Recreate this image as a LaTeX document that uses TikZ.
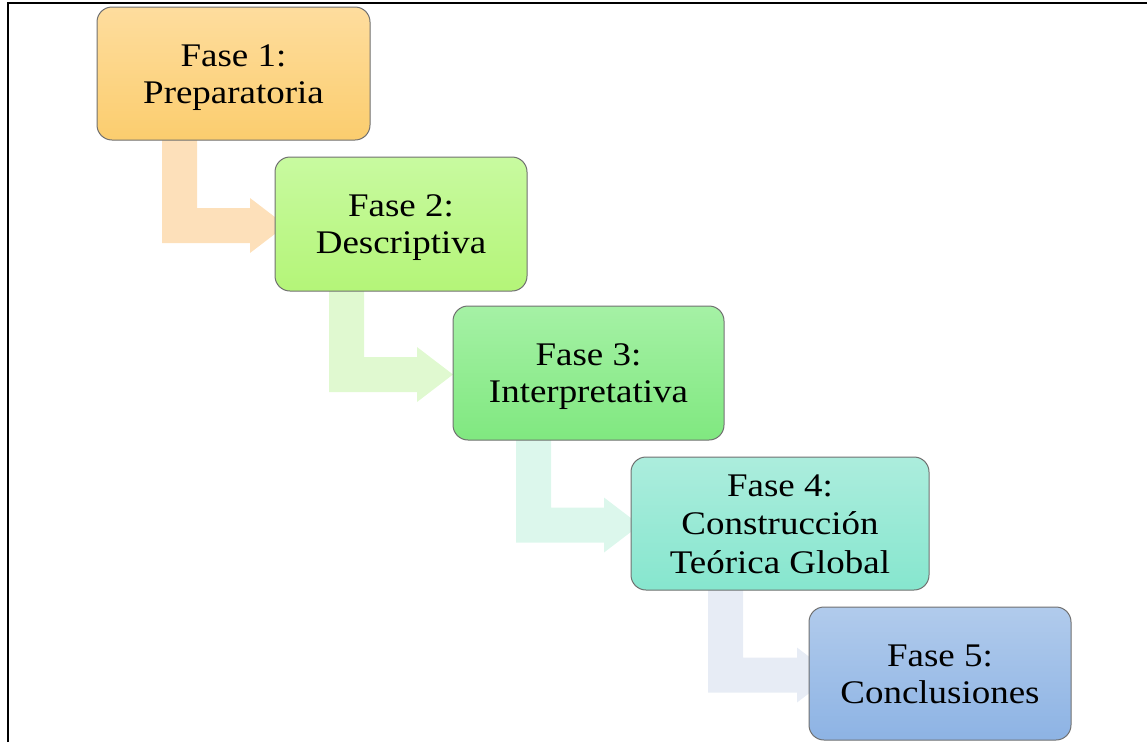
\documentclass[tikz,border=0pt]{standalone}
\usepackage{fontspec}
\setmainfont{Liberation Serif}[FakeStretch=1.12]
\usetikzlibrary{calc}
\pgfdeclarelayer{background}
\pgfsetlayers{background,main}
\definecolor{boxborder}{RGB}{112,112,112}
\definecolor{aone}{RGB}{253,224,186}
\definecolor{atwo}{RGB}{224,249,208}
\definecolor{athree}{RGB}{220,247,236}
\definecolor{afour}{RGB}{231,236,245}
\definecolor{tone}{RGB}{254,221,158}
\definecolor{bone}{RGB}{251,205,110}
\definecolor{ttwo}{RGB}{200,250,160}
\definecolor{btwo}{RGB}{180,245,120}
\definecolor{tthree}{RGB}{165,241,165}
\definecolor{bthree}{RGB}{128,232,128}
\definecolor{tfour}{RGB}{172,237,221}
\definecolor{bfour}{RGB}{134,230,206}
\definecolor{tfive}{RGB}{177,203,236}
\definecolor{bfive}{RGB}{141,179,228}
\newcommand\wstrut{\rule[-7.1pt]{0pt}{36.5pt}}
\newcommand\bentarrow[5]{%
  \begin{pgfonlayer}{background}
  \fill[#5] let \p1=(#1.south), \p2=(#2.west) in
    ({#3pt},{\y1+1pt}) -- ({#3pt+35pt},{\y1+1pt}) -- ({#3pt+35pt},{\y2+16pt})
    -- ({#4pt},{\y2+16pt}) -- ({#4pt},{\y2+26pt}) -- ({#4pt+36pt},{\y2-1.5pt})
    -- ({#4pt},{\y2-29pt}) -- ({#4pt},{\y2-19pt}) -- ({#3pt},{\y2-19pt}) -- cycle;
  \end{pgfonlayer}}
\begin{document}
\begin{tikzpicture}[x=1pt,y=1pt,
  phase/.style={draw=boxborder, line width=1pt, rounded corners=15pt,
    align=center, inner sep=0pt, text=black,
    font=\fontsize{33}{37}\selectfont, minimum height=133pt}]
\useasboundingbox (0,0) rectangle (1147,-742);
\draw[line width=2.5pt] (8,-742) -- (8,-3) -- (1147,-3);

\node[phase, minimum width=273pt, top color=tone, bottom color=bone]
  (b1) at (233.5,-73.5) {\wstrut Fase 1:\\Preparatoria\wstrut};
\node[phase, minimum width=252pt, minimum height=134pt, top color=ttwo, bottom color=btwo]
  (b2) at (401,-224) {\wstrut Fase 2:\\Descriptiva\wstrut};
\node[phase, minimum width=271pt, minimum height=134pt, top color=tthree, bottom color=bthree]
  (b3) at (588.5,-373) {\wstrut Fase 3:\\Interpretativa\wstrut};
\node[phase, minimum width=298pt, top color=tfour, bottom color=bfour,
  font=\fontsize{33}{38.5}\selectfont]
  (b4) at (780,-523.5) {\wstrut Fase 4:\\Construcción\\Teórica Global\wstrut};
\node[phase, minimum width=262pt, top color=tfive, bottom color=bfive]
  (b5) at (940,-673.5) {\wstrut Fase 5:\\Conclusiones\wstrut};

\bentarrow{b1}{b2}{162}{250}{aone}
\bentarrow{b2}{b3}{329}{417}{atwo}
\bentarrow{b3}{b4}{516}{604}{athree}
\bentarrow{b4}{b5}{708}{797}{afour}
\end{tikzpicture}
\end{document}
